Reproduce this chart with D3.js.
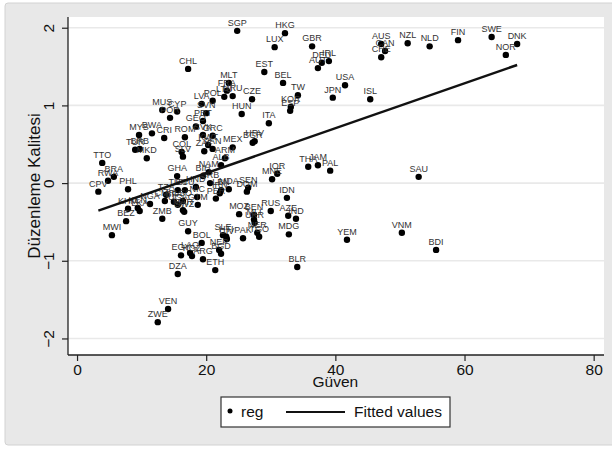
<!DOCTYPE html>
<html>
<head>
<meta charset="utf-8">
<script src="https://cdn.jsdelivr.net/npm/d3@7"></script>
<style>
  body { margin: 0; background: #fff; }
  svg { display: block; font-family: "Liberation Sans", Arial, sans-serif; }
</style>
</head>
<body>
<div id="chart"></div>
<script>
// Country codes, trust (Güven) and regulatory quality (Düzenleme Kalitesi)
const countries = ['SGP','HKG','LUX','GBR','DEU','IRL','AUT','EST','BEL','TW','KOR','ESP','CZE','HUN','ITA','USA','JPN','ISL',
  'AUS','CAN','CHE','NZL','NLD','FIN','SWE','DNK','NOR','CHL','MLT','FRA','URU','LVA','POL','LTU','SVN','MUS','CYP','POR',
  'PRT','GEO','MYS','BWA','CRI','ROM','SVK','GRC','TUR','BRB','MKD','COL','SLV','ZAF','KWT','PAN','MEX','BGR','HRV','ARM',
  'ALB','TTO','RWA','BRA','CPV','PHL','GHA','NAM','KHM','KEN','LKA','NGA','TZA','BFA','UGA','ZMB','BEZ','MWI','LSO','MAR',
  'TUN','ECU','HND','NIC','GTM','PER','IRN','LBN','MDA','SRB','BIH','SEN','DOM','MNE','IOR','THA','JAM','PAL','SAU','IDN',
  'RUS','AZE','IND','MDG','MOZ','BEN','MLI','UKR','NER','TGO','PAK','SLE','HTI','CIV','GUY','BOL','EGY','LAO','KGZ','ARG',
  'NEP','BGD','ETH','DZA','VEN','ZWE','YEM','VNM','BDI','BLR','SWZ','CMR'];

const guven = [24.8,32.2,30.6,36.4,37.9,39.0,37.3,29.0,31.9,34.2,33.1,33.0,27.1,25.5,29.7,41.5,39.6,45.4,
  47.1,47.7,47.1,51.2,54.6,59.0,64.2,68.15,66.4,17.2,23.5,23.2,24.1,19.3,21.0,22.8,20.0,13.2,15.5,14.4,
  19.5,18.4,9.6,11.6,13.5,16.7,19.5,21.0,9.0,9.7,10.8,16.2,16.4,19.7,20.3,21.0,24.1,27.2,27.5,22.9,
  22.3,3.9,4.8,5.7,3.3,7.9,15.5,20.4,7.9,9.4,9.7,11.3,13.8,15.0,15.6,13.2,7.6,5.4,16.4,16.4,
  15.6,16.7,18.4,18.6,18.7,21.5,22.1,22.3,23.5,20.6,19.5,26.5,26.3,30.2,31.0,35.8,37.3,39.2,52.9,32.5,
  30.0,32.7,33.9,32.8,25.1,27.4,27.4,27.5,27.9,28.2,25.7,22.6,23.1,23.2,17.2,19.3,16.1,17.5,17.8,19.5,
  22.0,22.3,21.4,15.6,14.1,12.5,41.8,50.3,55.6,34.1,16.6,13.6];

const kalite = [1.96,1.93,1.75,1.76,1.55,1.57,1.48,1.43,1.29,1.13,0.98,0.93,1.08,0.89,0.77,1.26,1.10,1.08,
  1.79,1.70,1.62,1.80,1.76,1.84,1.88,1.79,1.65,1.47,1.29,1.19,1.12,1.02,1.06,1.11,0.90,0.94,0.92,0.84,
  0.80,0.73,0.62,0.64,0.58,0.59,0.62,0.61,0.43,0.44,0.32,0.40,0.34,0.41,0.49,0.44,0.46,0.52,0.54,0.32,
  0.23,0.26,0.03,0.08,-0.11,-0.08,0.09,0.14,-0.33,-0.32,-0.36,-0.27,-0.15,-0.24,-0.28,-0.46,-0.49,-0.67,-0.23,-0.35,
  -0.09,-0.09,-0.05,-0.18,-0.28,-0.20,-0.13,-0.09,-0.08,0.00,0.09,-0.06,-0.11,0.05,0.12,0.21,0.23,0.16,0.08,-0.19,
  -0.36,-0.42,-0.46,-0.66,-0.40,-0.41,-0.47,-0.51,-0.64,-0.69,-0.71,-0.67,-0.69,-0.72,-0.62,-0.77,-0.93,-0.90,-0.94,-0.98,
  -0.86,-0.91,-1.12,-1.17,-1.62,-1.79,-0.73,-0.64,-0.86,-1.08,-0.37,-0.23];

// Fitted values at the smallest and largest Güven
const fitX = [3.3, 68.15];
const fitY = [-0.355, 1.52];

const xTicks = [0, 20, 40, 60, 80];
const yTicks = [-2, -1, 0, 1, 2];

const width = 612, height = 450;
const plot = { left: 68, right: 604, top: 17, bottom: 355 };

const svg = d3.select('#chart').append('svg')
  .attr('width', width)
  .attr('height', height);

// Graph region (gray) and plot region (white)
svg.append('rect')
  .attr('x', 5).attr('y', 3)
  .attr('width', 612).attr('height', 442)
  .attr('rx', 3)
  .attr('fill', '#e8e8e8')
  .attr('stroke', '#d2d2d2');

svg.append('rect')
  .attr('x', plot.left).attr('y', plot.top)
  .attr('width', plot.right - plot.left)
  .attr('height', plot.bottom - plot.top)
  .attr('fill', '#fff');

const x = d3.scaleLinear().domain([-1.4, 81.6]).range([plot.left, plot.right]);
const y = d3.scaleLinear().domain([-2.213, 2.138]).range([plot.bottom, plot.top]);

// Gridlines
svg.append('g')
  .selectAll('line')
  .data(yTicks)
  .join('line')
  .attr('x1', plot.left).attr('x2', plot.right)
  .attr('y1', d => y(d)).attr('y2', d => y(d))
  .attr('stroke', '#e9e9e9')
  .attr('stroke-width', 1.6);

// Points
const points = countries.map((c, i) => ({ c, x: guven[i], y: kalite[i] }));

svg.append('g')
  .selectAll('circle')
  .data(points)
  .join('circle')
  .attr('cx', d => x(d.x))
  .attr('cy', d => y(d.y))
  .attr('r', 3.2)
  .attr('fill', '#000');

svg.append('g')
  .selectAll('text')
  .data(points)
  .join('text')
  .attr('x', d => x(d.x))
  .attr('y', d => y(d.y) - 5)
  .attr('text-anchor', 'middle')
  .attr('font-size', 9)
  .attr('fill', '#333')
  .text(d => d.c);

// Fitted line
const line = d3.line().x(d => x(d[0])).y(d => y(d[1]));
svg.append('path')
  .datum(fitX.map((v, i) => [v, fitY[i]]))
  .attr('d', line)
  .attr('fill', 'none')
  .attr('stroke', '#111')
  .attr('stroke-width', 2.5);

// Axes
const xAxis = svg.append('g')
  .attr('transform', `translate(0,${plot.bottom})`)
  .call(d3.axisBottom(x).tickValues(xTicks).tickSize(6).tickPadding(3));
xAxis.select('.domain').attr('d', `M${plot.left},0H${plot.right}`);

const yAxis = svg.append('g')
  .attr('transform', `translate(${plot.left},0)`)
  .call(d3.axisLeft(y).tickValues(yTicks).tickSize(6).tickFormat(d3.format('d')));
yAxis.select('.domain').attr('d', `M0,${plot.top}V${plot.bottom}`);

svg.selectAll('.domain').attr('stroke', '#222').attr('stroke-width', 1.3);
svg.selectAll('.tick line').attr('stroke', '#222').attr('stroke-width', 1.2);

xAxis.selectAll('text')
  .attr('font-size', 15.5)
  .attr('fill', '#111')
  .attr('font-family', '"Liberation Sans", Arial, sans-serif');

yAxis.selectAll('text')
  .attr('font-size', 15.5)
  .attr('fill', '#111')
  .attr('font-family', '"Liberation Sans", Arial, sans-serif')
  .attr('text-anchor', 'middle')
  .attr('x', 0).attr('dy', null).attr('y', 0)
  .attr('transform', 'translate(-14,0) rotate(-90)');

// Axis titles
svg.append('text')
  .attr('x', x(40)).attr('y', 387)
  .attr('text-anchor', 'middle')
  .attr('font-size', 15.5)
  .attr('fill', '#111')
  .text('Güven');

svg.append('text')
  .attr('transform', `translate(40,${(plot.top + plot.bottom) / 2}) rotate(-90)`)
  .attr('text-anchor', 'middle')
  .attr('font-size', 17)
  .attr('fill', '#111')
  .text('Düzenleme Kalitesi');

// Legend
const lg = svg.append('g').attr('transform', 'translate(221,397)');
lg.append('rect')
  .attr('width', 229).attr('height', 30)
  .attr('fill', '#fff')
  .attr('stroke', '#333')
  .attr('stroke-width', 1.2);
lg.append('circle').attr('cx', 9).attr('cy', 14).attr('r', 2.5).attr('fill', '#000');
lg.append('text').attr('x', 20).attr('y', 20).attr('font-size', 15.5).attr('fill', '#111').text('reg');
lg.append('line')
  .attr('x1', 65).attr('x2', 124).attr('y1', 15).attr('y2', 15)
  .attr('stroke', '#111').attr('stroke-width', 2);
lg.append('text').attr('x', 133).attr('y', 20).attr('font-size', 15.5).attr('fill', '#111').text('Fitted values');
</script>
</body>
</html>
